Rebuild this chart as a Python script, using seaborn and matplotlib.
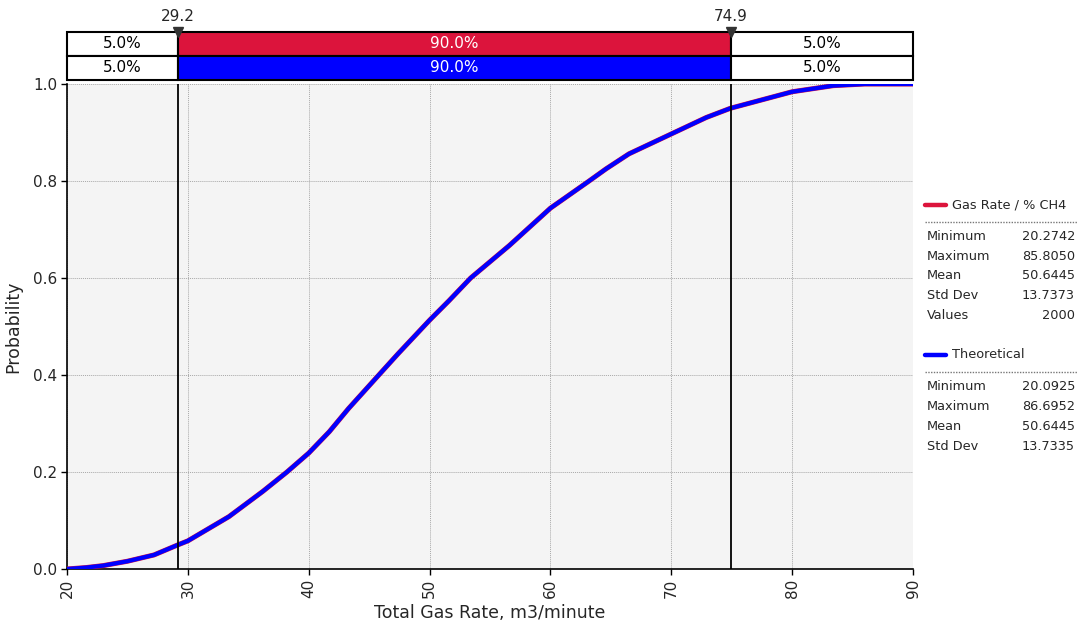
import numpy as np
import pandas as pd
import matplotlib
matplotlib.use("Agg")
import matplotlib.pyplot as plt
from matplotlib.lines import Line2D
import seaborn as sns

# CDF points (both curves sit on top of each other)
rate = [20.0, 21.6, 23.0, 25.0, 27.2, 29.2, 30.0, 33.4, 36.2, 38.2, 40.0, 41.7, 43.3, 45.8, 47.4,
        50.0, 51.6, 53.4, 56.6, 60.0, 63.2, 64.6, 66.5, 70.0, 72.9, 74.9, 80.0, 83.4, 86.0, 90.0]
gas_cdf = [0.0, 0.003, 0.007, 0.016, 0.029, 0.050, 0.058, 0.108, 0.160, 0.200, 0.239, 0.283, 0.331, 0.400, 0.444,
           0.513, 0.553, 0.600, 0.667, 0.744, 0.800, 0.825, 0.856, 0.897, 0.931, 0.950, 0.984, 0.9966, 1.0, 1.0]
theo_cdf = [0.0, 0.003, 0.007, 0.016, 0.029, 0.050, 0.058, 0.108, 0.160, 0.200, 0.239, 0.283, 0.331, 0.400, 0.444,
            0.513, 0.553, 0.600, 0.667, 0.744, 0.800, 0.825, 0.856, 0.897, 0.931, 0.950, 0.984, 0.9966, 1.0, 1.0]

# percentile markers and band shares
p_low, p_high = 29.2, 74.9
band_pct = [5.0, 90.0, 5.0]

# legend stats
series_names = ["Gas Rate / % CH4", "Theoretical"]
stat_names_gas = ["Minimum", "Maximum", "Mean", "Std Dev", "Values"]
gas_stats = ["20.2742", "85.8050", "50.6445", "13.7373", "2000"]
stat_names_theo = ["Minimum", "Maximum", "Mean", "Std Dev"]
theo_stats = ["20.0925", "86.6952", "50.6445", "13.7335"]

RED = "#dc143c"
BLUE = "#0000ff"

sns.set_style("ticks")
plt.rcParams["font.family"] = ["DejaVu Sans"]

W, H = 1079, 637
fig = plt.figure(figsize=(W / 100, H / 100), dpi=100)


def fx(x):
    return x / W


def fy(y):
    return 1 - y / H


# main plot
ax = fig.add_axes([fx(67), fy(569), 846 / W, 485 / H])
ax.set_facecolor("#f4f4f4")

gas = pd.DataFrame({"rate": rate, "prob": gas_cdf})
theo = pd.DataFrame({"rate": rate, "prob": theo_cdf})
sns.lineplot(data=gas, x="rate", y="prob", color=RED, estimator=None,
             linewidth=3.6, ax=ax, zorder=3)
sns.lineplot(data=theo, x="rate", y="prob", color=BLUE, estimator=None,
             linewidth=3.0, ax=ax, zorder=4)

ax.axvline(p_low, color="black", lw=1.3, zorder=5)
ax.axvline(p_high, color="black", lw=1.3, zorder=5)

ax.set_xlim(20, 90)
ax.set_ylim(0, 1)
ax.set_xticks(np.arange(20, 91, 10))
ax.set_yticks(np.arange(0, 1.01, 0.2))
ax.set_yticklabels([f"{v:.1f}" for v in np.arange(0, 1.01, 0.2)])
ax.tick_params(axis="x", labelrotation=90)
ax.tick_params(direction="out", length=4, width=1, color="black", labelsize=11, pad=3)
ax.grid(True, color="#a8a8a8", linestyle=(0, (1, 1)), lw=0.7)
for s in ["top", "right"]:
    ax.spines[s].set_visible(False)
for s in ["left", "bottom"]:
    ax.spines[s].set_color("black")
    ax.spines[s].set_linewidth(1.2)
ax.set_xlabel("Total Gas Rate, m3/minute", fontsize=12.5, labelpad=4)
ax.set_ylabel("Probability", fontsize=12.5, labelpad=8)

# percentile band boxes above the plot
ax_top = fig.add_axes([fx(67), fy(80), 846 / W, 48 / H])
ax_top.set_xlim(20, 90)
ax_top.set_ylim(0, 2)
ax_top.axis("off")
edges = [20, p_low, p_high, 90]
for row, mid_color in [(1.5, RED), (0.5, BLUE)]:
    for i in range(3):
        fill = mid_color if i == 1 else "white"
        ax_top.barh(row, edges[i + 1] - edges[i], left=edges[i], height=1,
                    color=fill, edgecolor="black", lw=1.5, clip_on=False)
        ax_top.text((edges[i] + edges[i + 1]) / 2, row, f"{band_pct[i]:.1f}%",
                    ha="center", va="center", fontsize=11,
                    color="white" if i == 1 else "black")
for p in [p_low, p_high]:
    ax_top.plot(p, 2, marker="v", color="#333333", markersize=7, clip_on=False, zorder=6)
    ax_top.annotate(f"{p:.1f}", xy=(p, 2), xytext=(0, 6), textcoords="offset points",
                    ha="center", va="bottom", fontsize=11)

# right-hand legend with stats
blocks = [(205, RED, series_names[0], stat_names_gas, gas_stats),
          (355, BLUE, series_names[1], stat_names_theo, theo_stats)]
for y0, col, name, labels, vals in blocks:
    fig.add_artist(Line2D([fx(925), fx(946)], [fy(y0), fy(y0)], color=col, lw=3.2))
    fig.text(fx(952), fy(y0), name, ha="left", va="center", fontsize=9.3)
    fig.add_artist(Line2D([fx(925), fx(1077)], [fy(y0 + 17), fy(y0 + 17)],
                          color="#777777", lw=1, linestyle=(0, (1, 1))))
    for k, (lab, val) in enumerate(zip(labels, vals)):
        yy = y0 + 31 + 20 * k
        fig.text(fx(927), fy(yy), lab, ha="left", va="center", fontsize=9.3)
        fig.text(fx(1075), fy(yy), val, ha="right", va="center", fontsize=9.3)

fig.savefig("out.png", dpi=100)
